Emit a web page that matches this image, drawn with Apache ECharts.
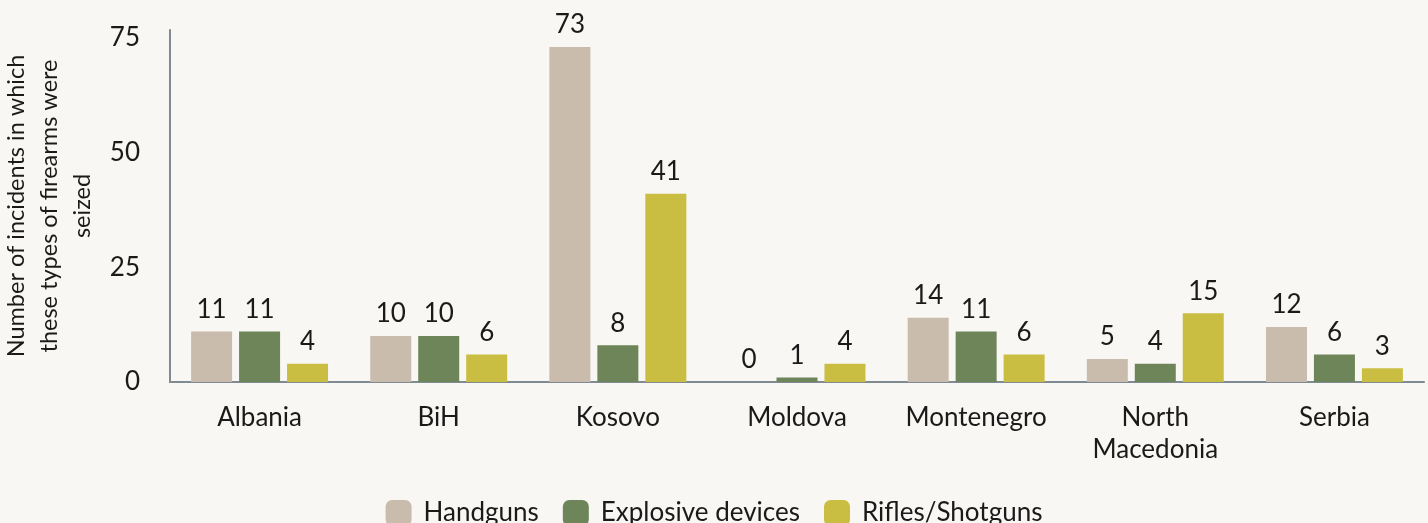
<!DOCTYPE html>
<html>
<head>
<meta charset="utf-8">
<script src="https://cdn.jsdelivr.net/npm/echarts@6/dist/echarts.min.js"></script>
<style>
html,body{margin:0;padding:0;background:#f8f7f3;}
#chart{width:1428px;height:523px;}
</style>
</head>
<body>
<div id="chart"></div>
<script>
const categories = ['Albania', 'BiH', 'Kosovo', 'Moldova', 'Montenegro', 'North\nMacedonia', 'Serbia'];
const handguns = [11, 10, 73, 0, 14, 5, 12];
const explosives = [11, 10, 8, 1, 11, 4, 6];
const rifles = [4, 6, 41, 4, 6, 15, 3];
const yTicks = [0, 25, 50, 75];

const font = 'Lato';
const chart = echarts.init(document.getElementById('chart'), null, {renderer: 'canvas'});
const label = {show: true, position: 'top', distance: 9, color: '#1a1a1a', fontFamily: font, fontSize: 26};
function mk(name, data, color) {
  return {name, type: 'bar', data, barWidth: 41, barGap: '17%', itemStyle: {color}, label};
}
chart.setOption({
  backgroundColor: '#f8f7f3',
  animation: false,
  grid: {left: 170, right: 4, top: 30, bottom: 141, containLabel: false, outerBoundsMode: 'none'},
  legend: {
    top: 500, left: 'center', itemWidth: 26, itemHeight: 26, itemGap: 24, padding: 0,
    textStyle: {fontFamily: font, fontSize: 26, color: '#1a1a1a', padding: [0, 0, 0, 7]},
    icon: 'roundRect'
  },
  xAxis: {
    type: 'category', data: categories,
    axisLine: {lineStyle: {color: '#7f8a93', width: 2}},
    axisTick: {show: false},
    axisLabel: {interval: 0, fontFamily: font, fontSize: 26, color: '#1a1a1a', margin: 20, lineHeight: 32}
  },
  yAxis: {
    type: 'value', min: 0, max: 76.7, interval: 25,
    axisLine: {show: true, lineStyle: {color: '#7f8a93', width: 2}},
    axisTick: {show: false},
    splitLine: {show: false},
    axisLabel: {fontFamily: font, fontSize: 26, color: '#1a1a1a', margin: 30, showMaxLabel: false,
      formatter: v => yTicks.includes(v) ? String(v) : ''},
    name: 'Number of incidents in which\nthese types of firearms were\nseized',
    nameLocation: 'middle', nameGap: 51, nameRotate: 90,
    nameTextStyle: {fontFamily: font, fontSize: 23.5, color: '#1a1a1a', lineHeight: 33, align: 'center'}
  },
  series: [
    mk('Handguns', handguns, '#c9bcad'),
    mk('Explosive devices', explosives, '#6e855a'),
    mk('Rifles/Shotguns', rifles, '#c9be41')
  ]
});
</script>
</body>
</html>
